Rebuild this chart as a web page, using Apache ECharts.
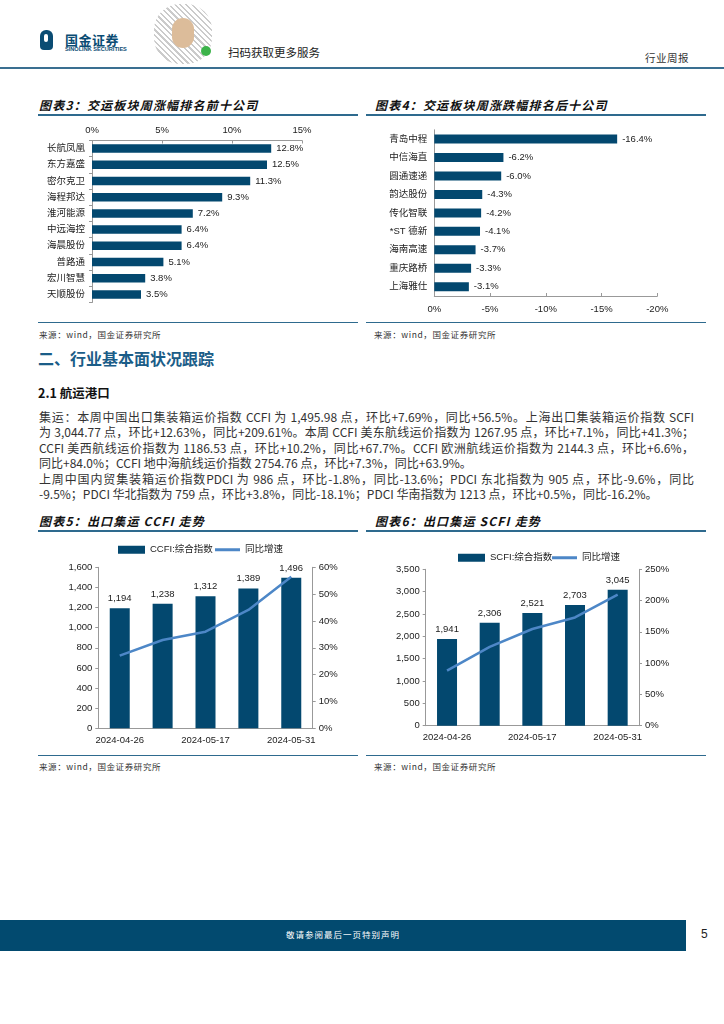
<!DOCTYPE html>
<html><head><meta charset="utf-8">
<script src="https://cdn.jsdelivr.net/npm/echarts@6/dist/echarts.min.js"></script>
<style>
html,body{margin:0;padding:0;background:#fff;}
#page{position:relative;width:724px;height:1024px;overflow:hidden;font-family:"Noto Sans CJK SC","Liberation Sans",sans-serif;color:#222;}
.abs{position:absolute;white-space:nowrap;}
.title{font-size:12px;font-weight:bold;font-style:italic;letter-spacing:1.2px;color:#111;}
.uline{position:absolute;height:1.5px;background:#2e6a8e;}
.src{font-size:8.5px;color:#333;letter-spacing:0.6px;}
.para{position:absolute;left:39px;width:655px;font-size:12px;line-height:15.3px;color:#333;font-weight:400;}
.para div{text-align:justify;text-align-last:justify;white-space:nowrap;}
.para div.last{text-align-last:left;}
.chart{position:absolute;}
</style></head>
<body><div id="page">
<!-- header -->
<div class="abs" style="left:40px;top:30px;width:13px;height:20px;background:#0a4c73;border-radius:6px 6px 4px 4px;"></div>
<div class="abs" style="left:44px;top:34px;width:4px;height:8px;background:#fff;border-radius:2px;"></div>
<div class="abs" style="left:65px;top:30px;font-size:13px;font-weight:bold;color:#0a4c73;letter-spacing:0.5px;">国金证券</div>
<div class="abs" style="left:65px;top:46px;font-size:5.6px;font-weight:bold;color:#0a4c73;font-family:'Liberation Sans';">SINOLINK SECURITIES</div>
<div class="abs" style="left:154px;top:4px;width:58px;height:60px;border-radius:26px;background:repeating-linear-gradient(45deg,#aaa 0 1.5px,#fff 1.5px 4px),#fff;opacity:0.6;"></div>
<div class="abs" style="left:172px;top:18px;width:22px;height:30px;border-radius:11px;background:#dcbc9a;"></div>
<div class="abs" style="left:201px;top:46px;width:10px;height:10px;border-radius:5px;background:#3cb34a;"></div>
<div class="abs" style="left:228px;top:44px;font-size:11.5px;color:#222;">扫码获取更多服务</div>
<div class="abs" style="left:645px;top:50px;font-size:10.5px;color:#333;letter-spacing:0.5px;">行业周报</div>
<div class="abs" style="left:0;top:67px;width:724px;height:2px;background:#3a6f91;"></div>

<!-- chart 3/4 titles -->
<div class="abs title" style="left:39px;top:96px;">图表3：交运板块周涨幅排名前十公司</div>
<div class="uline" style="left:38px;top:114px;width:320px;"></div>
<div class="abs title" style="left:375px;top:96px;">图表4：交运板块周涨跌幅排名后十公司</div>
<div class="uline" style="left:366px;top:114px;width:340px;"></div>
<div id="c3" class="chart" style="left:30px;top:120px;width:330px;height:190px;"></div>
<div id="c4" class="chart" style="left:365px;top:120px;width:340px;height:200px;"></div>
<div class="uline" style="left:38px;top:322px;width:320px;height:1px;"></div>
<div class="uline" style="left:366px;top:322px;width:340px;height:1px;"></div>
<div class="abs src" style="left:39px;top:328px;">来源：wind，国金证券研究所</div>
<div class="abs src" style="left:374px;top:328px;">来源：wind，国金证券研究所</div>

<div class="abs" style="left:38px;top:346px;font-size:16px;font-weight:bold;color:#1b5d88;">二、行业基本面状况跟踪</div>
<div class="abs" style="left:38px;top:383px;font-size:12.5px;font-weight:bold;color:#111;">2.1 航运港口</div>

<div class="para" style="top:409px;">
<div>集运：本周中国出口集装箱运价指数 CCFI 为 1,495.98 点，环比+7.69%，同比+56.5%。上海出口集装箱运价指数 SCFI</div>
<div>为 3,044.77 点，环比+12.63%，同比+209.61%。本周 CCFI 美东航线运价指数为 1267.95 点，环比+7.1%，同比+41.3%；</div>
<div>CCFI 美西航线运价指数为 1186.53 点，环比+10.2%，同比+67.7%。CCFI 欧洲航线运价指数为 2144.3 点，环比+6.6%，</div>
<div class="last">同比+84.0%；CCFI 地中海航线运价指数 2754.76 点，环比+7.3%，同比+63.9%。</div>
</div>
<div class="para" style="top:471px;">
<div>上周中国内贸集装箱运价指数PDCI 为 986 点，环比-1.8%，同比-13.6%；PDCI 东北指数为 905 点，环比-9.6%，同比</div>
<div class="last">-9.5%；PDCI 华北指数为 759 点，环比+3.8%，同比-18.1%；PDCI 华南指数为 1213 点，环比+0.5%，同比-16.2%。</div>
</div>

<!-- chart 5/6 -->
<div class="abs title" style="left:39px;top:512px;">图表5：出口集运 CCFI 走势</div>
<div class="uline" style="left:38px;top:530px;width:320px;"></div>
<div class="abs title" style="left:375px;top:512px;">图表6：出口集运 SCFI 走势</div>
<div class="uline" style="left:366px;top:530px;width:340px;"></div>
<div id="c5" class="chart" style="left:30px;top:535px;width:330px;height:220px;"></div>
<div id="c6" class="chart" style="left:365px;top:540px;width:340px;height:215px;"></div>
<div class="uline" style="left:38px;top:755px;width:320px;height:1px;"></div>
<div class="uline" style="left:366px;top:755px;width:340px;height:1px;"></div>
<div class="abs src" style="left:39px;top:760px;">来源：wind，国金证券研究所</div>
<div class="abs src" style="left:374px;top:760px;">来源：wind，国金证券研究所</div>

<!-- footer -->
<div class="abs" style="left:0;top:920px;width:686px;height:31px;background:#024a6f;"></div>
<div class="abs" style="left:0;top:928px;width:686px;text-align:center;font-size:8.5px;color:#fff;letter-spacing:1px;">敬请参阅最后一页特别声明</div>
<div class="abs" style="left:701px;top:927px;font-size:12px;color:#222;font-family:'Liberation Sans Narrow','Liberation Sans';">5</div>
</div>

<script>
// ---- data ----
const top10Names = ['长航凤凰','东方嘉盛','密尔克卫','海程邦达','淮河能源','中远海控','海晨股份','普路通','宏川智慧','天顺股份'];
const top10Values = [12.8, 12.5, 11.3, 9.3, 7.2, 6.4, 6.4, 5.1, 3.8, 3.5];
const bottom10Names = ['青岛中程','中信海直','圆通速递','韵达股份','传化智联','*ST 德新','海南高速','重庆路桥','上海雅仕'];
const bottom10Values = [-16.4, -6.2, -6.0, -4.3, -4.2, -4.1, -3.7, -3.3, -3.1];
const weekDates = ['2024-04-26','2024-05-10','2024-05-17','2024-05-24','2024-05-31'];
const ccfiIndex = [1194, 1238, 1312, 1389, 1496];
const ccfiYoy = [27.1, 32.9, 36.0, 44.1, 56.5];
const scfiIndex = [1941, 2306, 2521, 2703, 3045];
const scfiYoy = [87.9, 126.0, 154.6, 173.0, 209.6];

const BAR = '#03486f', LINE = '#4d87c7', AX = '#999', TXT = '#222';
const FONT = '"Liberation Sans","Noto Sans CJK SC",sans-serif';
const fmtK = v => Number(v).toLocaleString('en-US');

function axisBase(){
  return {axisLine:{show:true,lineStyle:{color:AX,width:1}},
          axisTick:{show:true,length:3,lineStyle:{color:AX}},
          splitLine:{show:false},
          axisLabel:{color:TXT,fontSize:9.5,fontFamily:FONT}};
}

// chart 3
const c3 = echarts.init(document.getElementById('c3'));
c3.setOption({
  animation:false,
  grid:{left:62,top:20.5,width:210,height:162},
  xAxis:Object.assign(axisBase(),{type:'value',position:'top',min:0,max:15,interval:5,
    axisTick:{show:true,inside:true,length:3,lineStyle:{color:AX}},
    axisLabel:{color:TXT,fontSize:9.5,fontFamily:FONT,margin:5,formatter:'{value}%'}}),
  yAxis:Object.assign(axisBase(),{type:'category',inverse:true,data:top10Names,
    axisLabel:{color:TXT,fontSize:9.5,fontFamily:FONT,margin:7}}),
  series:[{type:'bar',data:top10Values,barWidth:8.5,itemStyle:{color:BAR},
    label:{show:true,position:'right',distance:5,color:TXT,fontSize:9.5,fontFamily:FONT,
      formatter:p=>p.value.toFixed(1)+'%'}}]
});

// chart 4
const c4 = echarts.init(document.getElementById('c4'));
c4.setOption({
  animation:false,
  grid:{left:69.3,top:9.8,width:223,height:166.2},
  xAxis:Object.assign(axisBase(),{type:'value',position:'bottom',min:-20,max:0,interval:5,inverse:true,
    axisTick:{show:true,inside:true,length:3,lineStyle:{color:AX}},
    axisLabel:{color:TXT,fontSize:9.5,fontFamily:FONT,margin:9,formatter:'{value}%'}}),
  yAxis:Object.assign(axisBase(),{type:'category',inverse:true,data:bottom10Names,
    axisTick:{show:false},
    axisLabel:{color:TXT,fontSize:9.5,fontFamily:FONT,margin:7}}),
  series:[{type:'bar',data:bottom10Values,barWidth:9,itemStyle:{color:BAR},
    label:{show:true,position:'right',distance:5,color:TXT,fontSize:9.5,fontFamily:FONT,
      formatter:p=>p.value.toFixed(1)+'%'}}]
});

function comboOption(grid, legendPos, name, idx, yoy, leftMax, leftInt, rightMax, rightInt){
  return {
    animation:false,
    legend:[
      {top:legendPos.top,left:legendPos.left,itemWidth:27,itemHeight:8,
        textStyle:{color:TXT,fontSize:9.5,fontFamily:FONT},
        data:[{name:name,icon:'rect'}]},
      {top:legendPos.top,left:legendPos.left2,itemWidth:25,itemHeight:3,
        textStyle:{color:TXT,fontSize:9.5,fontFamily:FONT},
        data:[{name:'同比增速',icon:'rect'}]}
    ],
    grid:grid,
    xAxis:Object.assign(axisBase(),{type:'category',data:weekDates,
      axisTick:{show:false},
      axisLabel:{color:TXT,fontSize:9.5,fontFamily:FONT,margin:7,interval:1}}),
    yAxis:[
      Object.assign(axisBase(),{type:'value',min:0,max:leftMax,interval:leftInt,
        axisLabel:{color:TXT,fontSize:9.5,fontFamily:FONT,margin:6,formatter:fmtK}}),
      Object.assign(axisBase(),{type:'value',min:0,max:rightMax,interval:rightInt,position:'right',
        axisLabel:{color:TXT,fontSize:9.5,fontFamily:FONT,margin:6,formatter:'{value}%'}})
    ],
    series:[
      {name:name,type:'bar',data:idx,barWidth:20,itemStyle:{color:BAR},
        label:{show:true,position:'top',distance:5,color:TXT,fontSize:9.5,fontFamily:FONT,formatter:p=>fmtK(p.value)}},
      {name:'同比增速',type:'line',yAxisIndex:1,data:yoy,symbol:'none',
        lineStyle:{color:LINE,width:2.5},itemStyle:{color:LINE}}
    ]
  };
}

const c5 = echarts.init(document.getElementById('c5'));
c5.setOption(comboOption({left:68.3,top:32.3,width:214.4,height:161},{top:5,left:83,left2:180},
  'CCFI:综合指数', ccfiIndex, ccfiYoy, 1600, 200, 60, 10));

const c6 = echarts.init(document.getElementById('c6'));
c6.setOption(comboOption({left:60.7,top:29.3,width:213.3,height:156.4},{top:8,left:88,left2:182},
  'SCFI:综合指数', scfiIndex, scfiYoy, 3500, 500, 250, 50));
</script>
</body></html>
